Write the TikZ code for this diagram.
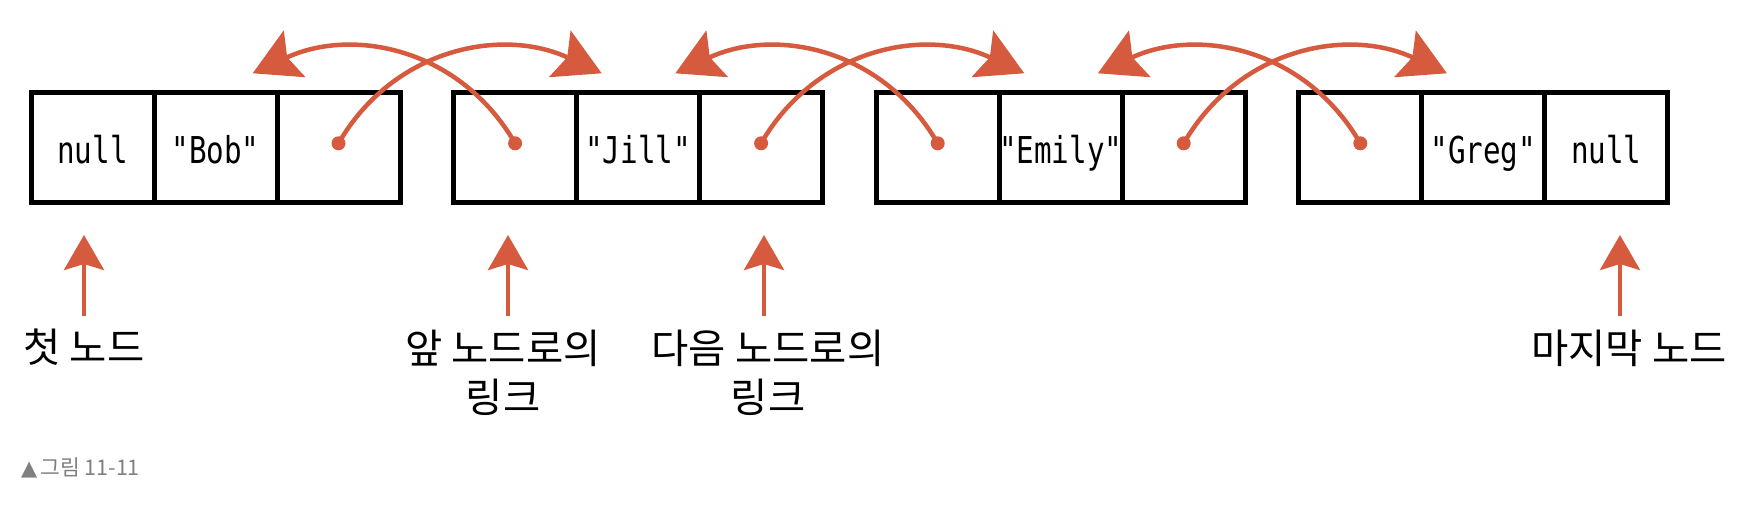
\documentclass[tikz,border=0pt]{standalone}
\usepackage{fontspec}
\newfontfamily\monof[FakeStretch=0.79]{DejaVu Sans Mono}
\newfontfamily\krf{Noto Sans CJK KR}
\newfontfamily\symf{DejaVu Sans}
\usetikzlibrary{arrows.meta}
\definecolor{lnk}{RGB}{213,90,62}
\definecolor{capg}{RGB}{128,128,128}
\begin{document}
\begin{tikzpicture}[x=1pt,y=-1pt,
  cell/.style={draw=black, line width=5pt, minimum width=123pt, minimum height=110pt,
    inner sep=0pt, outer sep=0pt, font=\monof\fontsize{37}{42}\selectfont,
    text height=32pt, text depth=0pt},
  dotn/.style={circle, fill=lnk, inner sep=0pt, minimum size=14pt},
  link/.style={draw=lnk, line width=4.5pt, -{Stealth[length=46pt,width=51pt,inset=8pt]}},
  uparr/.style={draw=lnk, line width=4.2pt, -{Stealth[length=35pt,width=40pt,inset=6pt]}},
  lab/.style={font=\krf\fontsize{40.5}{49}\selectfont, align=center, inner sep=0pt},
]
\useasboundingbox[fill=white] (0,0) rectangle (1754,504);

% box 1
\node[cell] (b0c0) at (92.5,147) {null};
\node[cell] (b0c1) at (215.5,147) {"Bob"};
\node[cell] (b0c2) at (338.5,147) {};
% box 2
\node[cell] (b1c0) at (515.1,147) {};
\node[cell] (b1c1) at (638.1,147) {"Jill"};
\node[cell] (b1c2) at (761.1,147) {};
% box 3
\node[cell] (b2c0) at (937.7,147) {};
\node[cell] (b2c1) at (1060.7,147) {"Emily"};
\node[cell] (b2c2) at (1183.7,147) {};
% box 4
\node[cell] (b3c0) at (1360.3,147) {};
\node[cell] (b3c1) at (1483.3,147) {"Greg"};
\node[cell] (b3c2) at (1606.3,147) {null};

% dots
\node[dotn] (d02) at (338.5,143.3) {};
\node[dotn] (d10) at (515.1,143.3) {};
\node[dotn] (d12) at (761.1,143.3) {};
\node[dotn] (d20) at (937.7,143.3) {};
\node[dotn] (d22) at (1183.7,143.3) {};
\node[dotn] (d30) at (1360.3,143.3) {};

% arrow tips
\coordinate (t0r) at (601.7,73.3);
\coordinate (t0l) at (252.7,73.3);
\coordinate (t1r) at (1024.3,73.3);
\coordinate (t1l) at (675.3,73.3);
\coordinate (t2r) at (1446.9,73.3);
\coordinate (t2l) at (1097.9,73.3);

\draw[link] (d02.center) .. controls +(55,-95) and +(-100,-46.5) .. (t0r);
\draw[link] (d10.center) .. controls +(-55,-95) and +(100,-46.5) .. (t0l);
\draw[link] (d12.center) .. controls +(55,-95) and +(-100,-46.5) .. (t1r);
\draw[link] (d20.center) .. controls +(-55,-95) and +(100,-46.5) .. (t1l);
\draw[link] (d22.center) .. controls +(55,-95) and +(-100,-46.5) .. (t2r);
\draw[link] (d30.center) .. controls +(-55,-95) and +(100,-46.5) .. (t2l);

% labels
\node[lab] (l1) at (84,347) {첫 노드};
\node[lab] (l2) at (503,373) {앞 노드로의\\링크};
\node[lab] (l3) at (768,373) {다음 노드로의\\링크};
\node[lab] (l4) at (1629,348) {마지막 노드};

% up arrows
\coordinate (ub1) at (84,316);   \coordinate (ut1) at (84,235);
\coordinate (ub2) at (508,316);  \coordinate (ut2) at (508,235);
\coordinate (ub3) at (764,316);  \coordinate (ut3) at (764,235);
\coordinate (ub4) at (1620,316); \coordinate (ut4) at (1620,235);
\draw[uparr] (ub1) -- (ut1);
\draw[uparr] (ub2) -- (ut2);
\draw[uparr] (ub3) -- (ut3);
\draw[uparr] (ub4) -- (ut4);

% caption
\node[anchor=west, text=capg, inner sep=0pt] (cap) at (21,468)
  {{\symf\fontsize{21}{24}\selectfont ▲}\hspace{3pt}{\krf\fontsize{21.5}{24}\selectfont 그림 11-11}};
\end{tikzpicture}
\end{document}
